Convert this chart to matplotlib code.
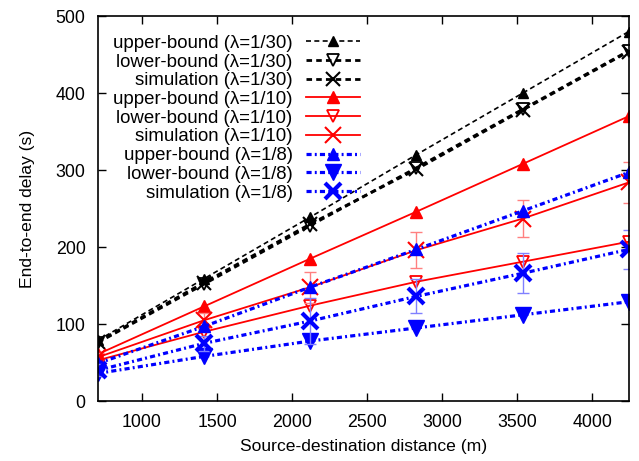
import numpy as np
import matplotlib
matplotlib.use("Agg")
import matplotlib.pyplot as plt

plt.rcParams['font.family'] = ['Liberation Sans', 'DejaVu Sans']

dist = [707, 1414, 2121, 2828, 3536, 4243]

up_30 = [79, 159, 239, 320, 400, 480]
low_30 = [76, 152, 228, 303, 379, 455]
sim_30 = [77, 154, 230, 301, 378, 454]

up_10 = [61, 123, 185, 246, 308, 370]
low_10 = [53, 90, 124, 155, 181, 207]
sim_10 = [57, 105, 148, 196, 237, 284]
err_10 = [5, 10, 20, 23, 24, 27]

up_8 = [49, 97, 148, 197, 247, 297]
low_8 = [36, 58, 78, 95, 112, 129]
sim_8 = [40, 75, 104, 136, 166, 197]
err_8 = [8, 10, 30, 22, 26, 25]

fig = plt.figure(figsize=(6.39, 4.61), dpi=100)
ax = fig.add_axes([0.1534, 0.130, 0.8306, 0.835])

# lambda = 1/30, black dashed
ax.plot(dist, up_30, 'k--', marker='^', ms=7, lw=1.2, dashes=(3, 2),
        label='upper-bound (λ=1/30)')
ax.plot(dist, low_30, 'k--', marker='v', ms=8, mfc='none', mew=1.3, lw=2, dashes=(2, 1.5),
        label='lower-bound (λ=1/30)')
ax.plot(dist, sim_30, 'k--', marker='x', ms=10, mew=1.5, lw=2, dashes=(2, 1.5),
        label='simulation (λ=1/30)')

# lambda = 1/10, red solid
ax.plot(dist, up_10, color='red', ls='-', marker='^', ms=8, lw=1.3,
        label='upper-bound (λ=1/10)')
ax.plot(dist, low_10, color='red', ls='-', marker='v', ms=9, mfc='none', mew=1.3, lw=1.3,
        label='lower-bound (λ=1/10)')
ax.errorbar(dist, sim_10, yerr=err_10, fmt='none', ecolor='#ff8080', elinewidth=1,
            capsize=4)
ax.plot(dist, sim_10, color='red', ls='-', marker='x', ms=11, mew=1.5, lw=1.3,
        label='simulation (λ=1/10)')

# lambda = 1/8, blue dash-dot
dd = (1.6, 1.0, 0.6, 1.0)
ax.plot(dist, up_8, color='blue', ls='-.', dashes=dd, marker='^', ms=9, lw=2.3,
        label='upper-bound (λ=1/8)')
ax.plot(dist, low_8, color='blue', ls='-.', dashes=dd, marker='v', ms=12, lw=2.3,
        label='lower-bound (λ=1/8)')
ax.errorbar(dist, sim_8, yerr=err_8, fmt='none', ecolor='#8080ff', elinewidth=1,
            capsize=4)
ax.plot(dist, sim_8, color='blue', ls='-.', dashes=dd, marker='x', ms=11, mew=3, lw=2.3,
        label='simulation (λ=1/8)')

ax.set_xlim(707, 4243)
ax.set_ylim(0, 500)
ax.set_xticks([1000, 1500, 2000, 2500, 3000, 3500, 4000])
ax.set_yticks([0, 100, 200, 300, 400, 500])
ax.tick_params(direction='in', top=True, right=True, length=6, width=1,
               labelsize=12.8, pad=9)
for s in ax.spines.values():
    s.set_linewidth(1.2)

ax.set_xlabel('Source-destination distance (m)', fontsize=12.6, labelpad=6)
ax.set_ylabel('End-to-end delay (s)', fontsize=12.6, labelpad=15)

ax.legend(loc='upper left', markerfirst=False, frameon=False, fontsize=13.4,
          handlelength=2.9, handletextpad=0.7, labelspacing=0.09,
          borderaxespad=0.4, bbox_to_anchor=(0.0, 0.99))

fig.savefig('out.png', dpi=100)
